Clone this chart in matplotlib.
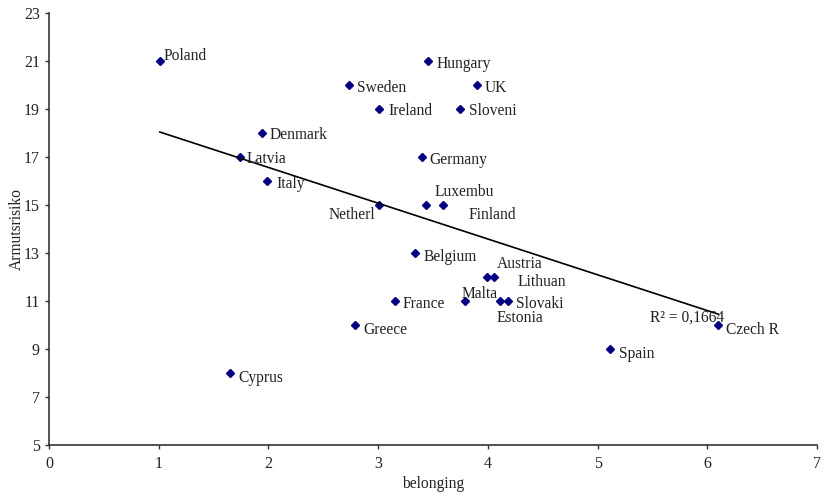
import numpy as np
import matplotlib
matplotlib.use("Agg")
import matplotlib.pyplot as plt

countries = ["Poland", "Hungary", "Sweden", "UK", "Ireland", "Sloveni", "Denmark",
             "Latvia", "Italy", "Germany", "Luxembu", "Netherl", "Finland", "Belgium",
             "Austria", "Lithuan", "Malta", "France", "Slovaki", "Estonia", "Greece",
             "Cyprus", "Spain", "Czech R"]
belonging = [1.01, 3.45, 2.73, 3.90, 3.01, 3.75, 1.94,
             1.74, 1.99, 3.40, 3.44, 3.01, 3.59, 3.34,
             3.99, 4.06, 3.79, 3.15, 4.18, 4.11, 2.79,
             1.65, 5.11, 6.10]
armutsrisiko = [21, 21, 20, 20, 19, 19, 18,
                17, 16, 17, 15, 15, 15, 13,
                12, 12, 11, 11, 11, 11, 10,
                8, 9, 10]
r2_label = "R² = 0,1664"

# label offsets in pixels (dx, dy, ha)
offsets = {
    "Poland": (4, 5, "left"), "Hungary": (9, -3, "left"), "Sweden": (8, -3, "left"),
    "UK": (8, -3, "left"), "Ireland": (9, -2, "left"), "Sloveni": (9, -2, "left"),
    "Denmark": (8, -2, "left"), "Latvia": (7, -2, "left"), "Italy": (9, -3, "left"),
    "Germany": (7, -3, "left"), "Luxembu": (8, 13, "left"), "Netherl": (-4, -10, "right"),
    "Finland": (26, -10, "left"), "Belgium": (8, -4, "left"), "Austria": (10, 13, "left"),
    "Lithuan": (23, -5, "left"), "Malta": (-3, 7, "left"), "France": (8, -3, "left"),
    "Slovaki": (8, -3, "left"), "Estonia": (-3, -17, "left"), "Greece": (8, -5, "left"),
    "Cyprus": (8, -5, "left"), "Spain": (9, -5, "left"), "Czech R": (8, -5, "left"),
}

plt.rcParams['font.family'] = ['Liberation Serif', 'DejaVu Serif']

fig = plt.figure(figsize=(8.24, 4.97), dpi=100)
ax = fig.add_axes([49/824, 1-445/497, (817-49)/824, (445-13)/497])

x = np.array(belonging)
y = np.array(armutsrisiko, dtype=float)
ax.plot(x, y, linestyle='none', marker='D', markersize=4, color='#000080')

# linear trend
slope, intercept = np.polyfit(x, y, 1)
xs = np.array([x.min(), x.max()])
ax.plot(xs, slope*xs + intercept, color='black', linewidth=1.2)

fs = 11.2
for c, xi, yi in zip(countries, x, y):
    dx, dy, ha = offsets[c]
    ax.annotate(c, (xi, yi), xytext=(dx*0.72, dy*0.72), textcoords='offset points',
                ha=ha, va='center', fontsize=fs, color='#222222')

ax.annotate(r2_label, (x.max(), slope*x.max() + intercept), xytext=(-31*0.72, -3*0.72),
            textcoords='offset points', ha='center', va='center', fontsize=fs,
            color='#222222')

ax.set_xlim(0, 7)
ax.set_ylim(5, 23)
ax.set_xticks(range(0, 8))
ax.set_yticks(range(5, 24, 2))
for s in ['top', 'right']:
    ax.spines[s].set_visible(False)
for s in ['left', 'bottom']:
    ax.spines[s].set_color('#333333')
    ax.spines[s].set_linewidth(1.2)
ax.tick_params(direction='out', length=3, width=1, colors='#333333', labelsize=11.5,
               labelcolor='#222222')
ax.tick_params(axis='x', pad=5)
ax.set_xlabel('belonging', fontsize=fs, color='#222222')
ax.set_ylabel('Armutsrisiko', fontsize=fs, color='#222222')
ax.xaxis.set_label_coords(0.5, -0.09)
ax.yaxis.set_label_coords(-0.042, 0.5)
ax.xaxis.label.set_va('center')
ax.yaxis.label.set_va('center')

fig.savefig('out.png', dpi=100)
